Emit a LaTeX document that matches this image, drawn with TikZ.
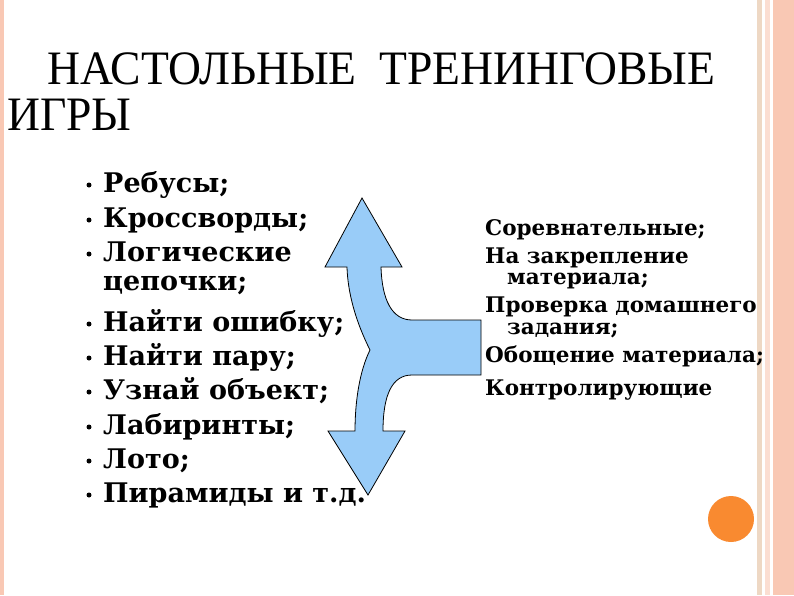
\documentclass[tikz,border=0pt]{standalone}
\usepackage{fontspec}
\setmainfont{DejaVu Serif}
\newfontfamily\titlefont[FakeStretch=0.95]{Liberation Serif}
\definecolor{arrowblue}{HTML}{99CCF8}
\definecolor{salmon}{HTML}{F9C8B4}
\definecolor{beige}{HTML}{EED8C4}
\definecolor{orangec}{HTML}{F98A30}
\begin{document}
\begin{tikzpicture}[x=1pt,y=-1pt,
  litem/.style={anchor=base west,inner sep=0,font=\fontsize{27}{27}\selectfont\bfseries},
  ritem/.style={anchor=base west,inner sep=0,font=\fontsize{21.5}{21.5}\selectfont\bfseries},
  bul/.style={circle,fill=black,inner sep=0,minimum size=5pt}]
\useasboundingbox (0,0) rectangle (794,595);
\fill[white] (0,0) rectangle (794,595);
% borders
\fill[salmon] (0,0) rectangle (4,595);
\fill[beige] (757,0) rectangle (762,595);
\fill[salmon!60] (765,0) rectangle (770,595);
\fill[salmon] (773,0) rectangle (794,595);
% title
\node[anchor=base west,inner sep=0,font=\titlefont\fontsize{48}{48}\selectfont] (t1) at (47,84) {НАСТОЛЬНЫЕ\ \ ТРЕНИНГОВЫЕ};
\node[anchor=base west,inner sep=0,font=\titlefont\fontsize{48}{48}\selectfont] (t2) at (7,130) {ИГРЫ};
% arrow
\path[fill=arrowblue,draw=black,line width=0.8pt]
 (362,198) -- (402,267) -- (381,267)
 .. controls (382,300) and (392,320) .. (412,320) -- (481,320) -- (481,375) -- (412,375)
 .. controls (392,375) and (383,395) .. (383,431) -- (405,431) -- (368,495) -- (328,431) -- (355,431)
 .. controls (355,400) and (360,370) .. (370,350)
 .. controls (360,330) and (348,300) .. (347,267) -- (325,267) -- cycle;
% left list
\foreach \y/\t [count=\i] in {192/{Ребусы;},227/{Кроссворды;},261/{Логические},331/{Найти ошибку;},365/{Найти пару;},399/{Узнай объект;},434/{Лабиринты;},468/{Лото;},502/{Пирамиды и т.д.}}{
  \node[bul] (b\i) at (89,\y-7) {};
  \node[litem] (l\i) at (103,\y) {\t};
}
\node[litem] (l3b) at (103,290) {цепочки;};
% right list
\node[ritem] (r1) at (485,235) {Соревнательные;};
\node[ritem] (r2) at (485,263) {На закрепление};
\node[ritem] (r3) at (507,284) {материала;};
\node[ritem] (r4) at (485,312) {Проверка домашнего};
\node[ritem] (r5) at (507,334) {задания;};
\node[ritem] (r6) at (485,362) {Обощение материала;};
\node[ritem] (r7) at (485,395) {Контролирующие};
% orange circle
\fill[orangec] (731,519) circle (23);
\end{tikzpicture}
\end{document}
